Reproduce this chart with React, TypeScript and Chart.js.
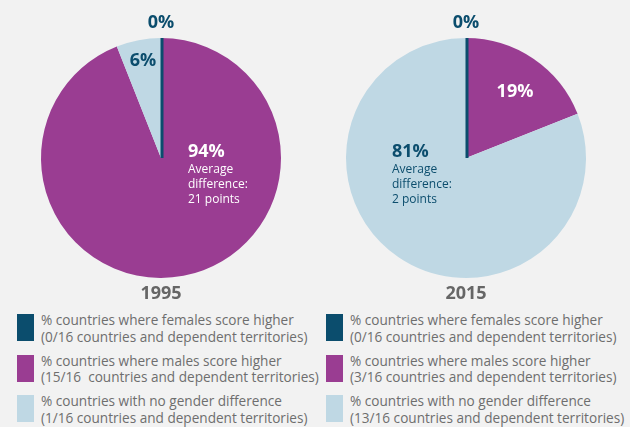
import React, { useEffect, useRef } from 'react';
import { Chart, registerables } from 'chart.js';

Chart.register(...registerables);

// ---- data ----
const categories = [
  '% countries where females score higher',
  '% countries where males score higher',
  '% countries with no gender difference',
];
const sliceColors = ['#0b4d6d', '#9a3d92', '#bfd8e4'];
const years = ['1995', '2015'];
const share1995 = [0, 94, 6];
const share2015 = [0, 19, 81];
const counts1995 = ['0/16', '15/16 ', '1/16'];
const counts2015 = ['0/16', '3/16', '13/16'];
const avgDifference = ['21 points', '2 points'];
// label offsets from pie centre (text placement only)
const labelOffsets1995 = [[0, -135], [27, -6], [-18, -97]];
const labelOffsets2015 = [[0, -135], [49, -66], [-74, -6]];

const shares = [share1995, share2015];
const counts = [counts1995, counts2015];
const offsets = [labelOffsets1995, labelOffsets2015];

const DARK = '#0b4d6d';
const FONT = '"Open Sans", "Noto Sans", sans-serif';
const GREY = '#6e6e6e';

const labelPlugin = {
  id: 'sliceLabels',
  afterDatasetsDraw(chart: any, _args: any, opts: any) {
    const ctx = chart.ctx as CanvasRenderingContext2D;
    const meta = chart.getDatasetMeta(0);
    const data = chart.data.datasets[0].data as number[];
    const cols = chart.data.datasets[0].backgroundColor as string[];
    const maxIdx = data.indexOf(Math.max(...data));
    ctx.save();
    let cx = 0, cy = 0, r = 0;
    meta.data.forEach((arc: any, i: number) => {
      const p = arc.getProps(['x', 'y', 'startAngle', 'outerRadius'], true);
      cx = p.x; cy = p.y; r = p.outerRadius;
      if (data[i] === 0) {
        ctx.strokeStyle = cols[i];
        ctx.lineWidth = 3;
        ctx.beginPath();
        ctx.moveTo(p.x + 1, p.y);
        ctx.lineTo(p.x + 1 + Math.cos(p.startAngle) * p.outerRadius, p.y + Math.sin(p.startAngle) * p.outerRadius);
        ctx.stroke();
      }
    });
    meta.data.forEach((arc: any, i: number) => {
      const [dx, dy] = opts.offsets[i];
      const color = cols[i] === sliceColors[1] ? '#ffffff' : DARK;
      const txt = Math.round(data[i]) + '%';
      ctx.fillStyle = color;
      ctx.textBaseline = 'middle';
      if (i === maxIdx) {
        ctx.textAlign = 'left';
        ctx.font = `bold 18px ${FONT}`;
        ctx.fillText(txt, cx + dx, cy + dy);
        ctx.font = `12px ${FONT}`;
        ctx.fillText('Average', cx + dx, cy + dy + 18);
        ctx.fillText('difference:', cx + dx, cy + dy + 33);
        ctx.fillText(opts.avg, cx + dx, cy + dy + 48);
      } else {
        ctx.textAlign = 'center';
        ctx.font = `bold 18px ${FONT}`;
        ctx.fillText(txt, cx + dx, cy + dy);
      }
    });
    ctx.fillStyle = '#666666';
    ctx.textAlign = 'center';
    ctx.textBaseline = 'middle';
    ctx.font = `bold 18px ${FONT}`;
    ctx.fillText(opts.year, cx, cy + r + 16);
    ctx.restore();
  },
};

function PieBlock({ index }: { index: number }) {
  const ref = useRef<HTMLCanvasElement>(null);
  useEffect(() => {
    if (!ref.current) return;
    const chart = new Chart(ref.current, {
      type: 'pie',
      data: {
        labels: categories,
        datasets: [
          {
            data: shares[index],
            backgroundColor: sliceColors,
            borderWidth: 0,
          },
        ],
      },
      options: {
        responsive: false,
        animation: false,
        layout: { padding: { left: 41, right: 24, top: 38, bottom: 32 } },
        plugins: {
          legend: { display: false },
          tooltip: { enabled: false },
          sliceLabels: { offsets: offsets[index], avg: avgDifference[index], year: years[index] },
        } as any,
      },
      plugins: [labelPlugin],
    });
    return () => chart.destroy();
  }, [index]);
  return (
    <canvas
      ref={ref}
      width={305}
      height={310}
      style={{ position: 'absolute', left: index * 305, top: 0, width: 305, height: 310 }}
    />
  );
}

function Legend({ index }: { index: number }) {
  const left = index === 0 ? 17 : 326;
  return (
    <div style={{ position: 'absolute', left, top: 313 }}>
      {categories.map((c, i) => (
        <div key={i} style={{ position: 'absolute', left: 0, top: i * 40.5, width: 300, height: 34 }}>
          <div style={{ position: 'absolute', left: 0, top: 1, width: 17, height: 27, background: sliceColors[i] }} />
          <div
            style={{
              position: 'absolute',
              left: 24,
              top: -1,
              font: `13.6px ${FONT}`,
              lineHeight: '16.5px',
              color: GREY,
              whiteSpace: 'pre',
            }}
          >
            {c}
            <br />
            {`(${counts[index][i]} countries and dependent territories)`}
          </div>
        </div>
      ))}
    </div>
  );
}

export default function App() {
  useEffect(() => {
    document.body.style.margin = '0';
  }, []);
  return (
    <div
      style={{
        position: 'fixed',
        left: 0,
        top: 0,
        width: 630,
        height: 427,
        background: '#f2f2f2',
        overflow: 'hidden',
      }}
    >
      <PieBlock index={0} />
      <PieBlock index={1} />
      <Legend index={0} />
      <Legend index={1} />
    </div>
  );
}
